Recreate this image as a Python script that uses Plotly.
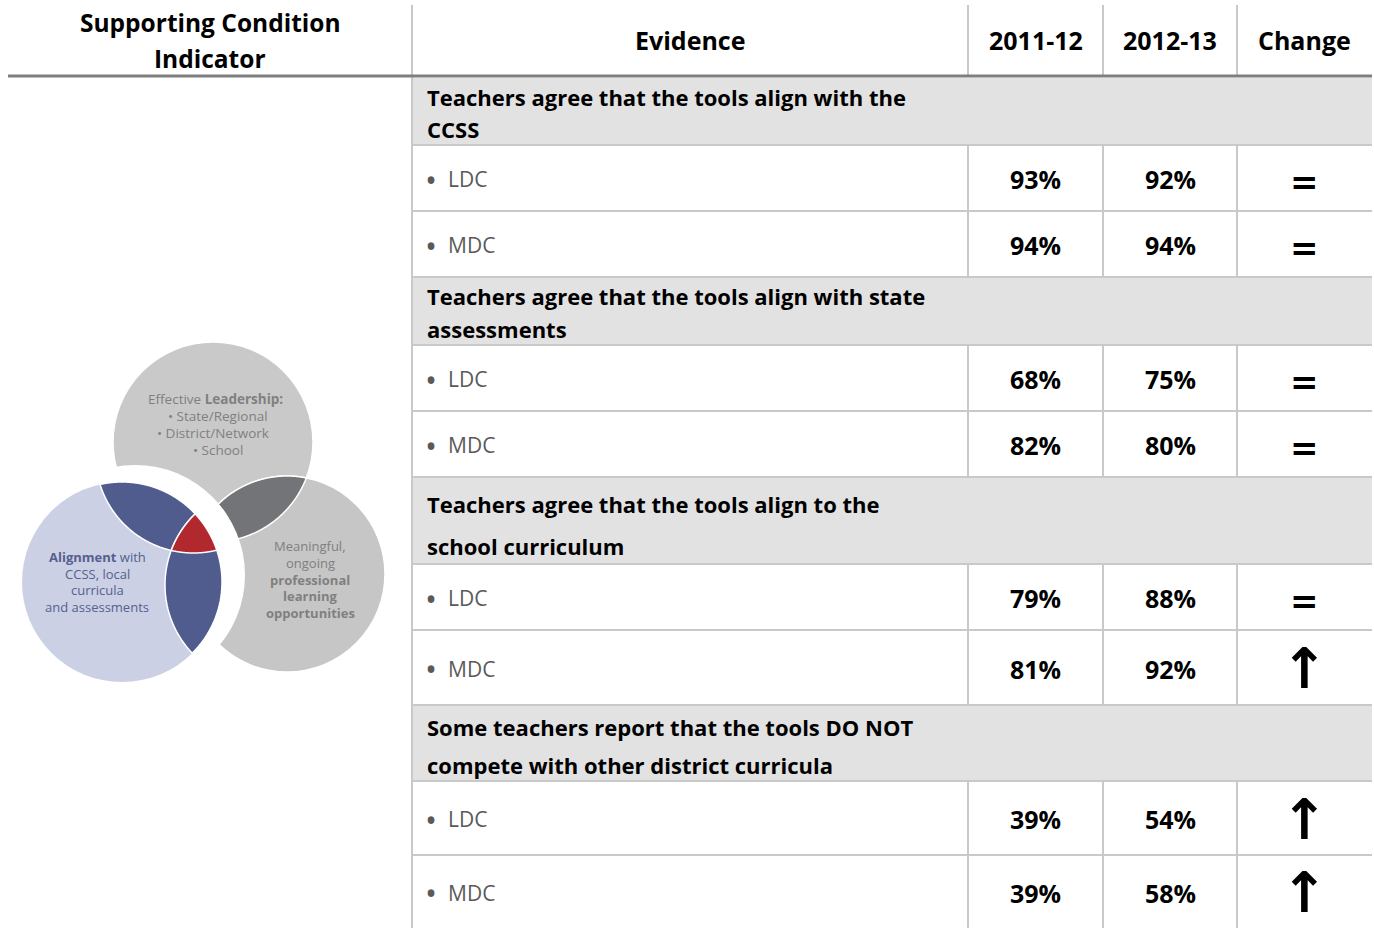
import numpy as np
import plotly.graph_objects as go

# ---------------- data ----------------
INDICATOR_HEADER = ["Supporting Condition", "Indicator"]
COL_HEADERS = ["Evidence", "2011-12", "2012-13", "Change"]
GROUP_LINES = [
    ["Teachers agree that the tools align with the", "CCSS"],
    ["Teachers agree that the tools align with state", "assessments"],
    ["Teachers agree that the tools align to the", "school curriculum"],
    ["Some teachers report that the tools DO NOT", "compete with other district curricula"],
]
SUBGROUPS = ["LDC", "MDC"]
PCT_2011 = [93, 94, 68, 82, 79, 81, 39, 39]
PCT_2012 = [92, 94, 75, 80, 88, 92, 54, 58]
CHANGE = ["=", "=", "=", "=", "=", "↑", "↑", "↑"]

VENN_TOP = ["Effective <b>Leadership:</b>", "• State/Regional", "• District/Network", "• School"]
VENN_RIGHT = ["Meaningful,", "ongoing", "<b>professional</b>", "<b>learning</b>", "<b>opportunities</b>"]
VENN_LEFT = ["<b>Alignment</b> with", "CCSS, local", "curricula", "and assessments"]

# ---------------- layout geometry (style) ----------------
W, H = 1374, 928
COL_X = [412, 968, 1103, 1237, 1372]
LEFT_X0 = 8
HEADER_LINE_Y = 76
GROUP_ROWS = [(78, 145, [97, 129]), (277, 345, [296, 329]), (477, 564, [504, 546]), (705, 781, [727, 765])]
SUB_ROWS = [(145, 211), (211, 277), (345, 411), (411, 477), (564, 630), (630, 705), (781, 855), (855, 928)]

FONT = "Open Sans"
GRID = "#c9c9c9"
GROUP_FILL = "#e2e2e2"

fig = go.Figure()
shapes = []
ann = []

def text(x, y, s, size, color="#000000", bold=False, xanchor="center", family=FONT):
    ann.append(dict(x=x, y=y, xref="x", yref="y", text=(f"<b>{s}</b>" if bold else s),
                    showarrow=False, xanchor=xanchor, yanchor="middle",
                    font=dict(family=family, size=size, color=color)))

for top, bot, _ in GROUP_ROWS:
    shapes.append(dict(type="rect", x0=COL_X[0], x1=COL_X[-1], y0=top, y1=bot,
                       fillcolor=GROUP_FILL, line=dict(width=0), layer="below"))

shapes.append(dict(type="line", x0=COL_X[0], x1=COL_X[0], y0=5, y1=H, line=dict(color=GRID, width=2)))
for cx in COL_X[1:4]:
    shapes.append(dict(type="line", x0=cx, x1=cx, y0=5, y1=HEADER_LINE_Y, line=dict(color=GRID, width=2)))
    for top, bot in SUB_ROWS:
        shapes.append(dict(type="line", x0=cx, x1=cx, y0=top, y1=bot, line=dict(color=GRID, width=2)))

ys = sorted(set([b for _, b, _ in GROUP_ROWS] + [b for _, b in SUB_ROWS[:-1]]))
for y in ys:
    shapes.append(dict(type="line", x0=COL_X[0], x1=COL_X[-1], y0=y, y1=y, line=dict(color=GRID, width=2)))
shapes.append(dict(type="line", x0=LEFT_X0, x1=COL_X[-1], y0=HEADER_LINE_Y, y1=HEADER_LINE_Y,
                   line=dict(color="#7f7f7f", width=3)))

text(210, 22, INDICATOR_HEADER[0], 24.5, bold=True)
text(210, 58, INDICATOR_HEADER[1], 24.5, bold=True)
for i, h in enumerate(COL_HEADERS):
    text((COL_X[i] + COL_X[i + 1]) / 2, 40, h, 25, bold=True)

for (top, bot, lys), lines in zip(GROUP_ROWS, GROUP_LINES):
    for ly, s in zip(lys, lines):
        text(425, ly, s, 22, bold=True, xanchor="left")

for i, (top, bot) in enumerate(SUB_ROWS):
    yc = (top + bot) / 2 + 1
    text(431, yc, "•", 32, color="#5a5a5a")
    text(446, yc, SUBGROUPS[i % 2], 21, color="#5a5a5a", xanchor="left")
    text((COL_X[1] + COL_X[2]) / 2, yc, f"{PCT_2011[i]}%", 25, bold=True)
    text((COL_X[2] + COL_X[3]) / 2, yc, f"{PCT_2012[i]}%", 25, bold=True)
    ch = CHANGE[i]
    if ch == "=":
        text((COL_X[3] + COL_X[4]) / 2, yc + 3, "<b>=</b>", 34, family="DejaVu Sans")
    else:
        text((COL_X[3] + COL_X[4]) / 2, yc, "<b>" + ch + "</b>", 56, family="DejaVu Sans")

# ---------------- Venn diagram ----------------
def circle_shape(c, fill, lw=0, lc="white"):
    x, y, r = c
    return dict(type="circle", x0=x - r, x1=x + r, y0=y - r, y1=y + r, fillcolor=fill,
                line=dict(width=lw, color=lc), layer="above")

def region_path(circles, n=1440):
    pts = []
    for i, (x, y, r) in enumerate(circles):
        t = np.linspace(0, 2 * np.pi, n, endpoint=False)
        px, py = x + r * np.cos(t), y + r * np.sin(t)
        ok = np.ones(n, bool)
        for j, (x2, y2, r2) in enumerate(circles):
            if j != i:
                ok &= (px - x2) ** 2 + (py - y2) ** 2 <= r2 ** 2 + 1e-6
        pts.append(np.c_[px[ok], py[ok]])
    P = np.vstack(pts)
    cx, cy = P.mean(axis=0)
    order = np.argsort(np.arctan2(P[:, 1] - cy, P[:, 0] - cx))
    P = P[order]
    return "M " + " L ".join(f"{a:.2f},{b:.2f}" for a, b in P) + " Z"

T = (213, 442, 100)
R = (287, 574, 98)
Wc = (135, 575, 110)
L = (122, 582, 100)
Tp = (193.5, 455, 98)
Rp = (264, 585, 99)

shapes.append(circle_shape(T, "#c9c9c9", 1.5))
shapes.append(circle_shape(R, "#c6c6c6", 1.5))
shapes.append(dict(type="path", path=region_path([T, R]), fillcolor="#737478",
                   line=dict(color="white", width=1.5), layer="above"))
shapes.append(circle_shape(Wc, "white"))
shapes.append(circle_shape(L, "#cbd0e4"))
shapes.append(dict(type="path", path=region_path([L, Tp]), fillcolor="#505c8e",
                   line=dict(color="white", width=1.5), layer="above"))
shapes.append(dict(type="path", path=region_path([L, Rp]), fillcolor="#505c8e",
                   line=dict(color="white", width=1.5), layer="above"))
shapes.append(dict(type="path", path=region_path([L, Tp, Rp]), fillcolor="#b1282f",
                   line=dict(color="white", width=1.5), layer="above"))

for k, s in enumerate(VENN_TOP):
    text([215, 218, 213, 218][k], 399 + 17 * k, s, 13.5, color="#808080")
for k, s in enumerate(VENN_RIGHT):
    text(310, 546 + 16.8 * k, s, 13, color="#808080")
for k, s in enumerate(VENN_LEFT):
    text(97, 557 + 16.7 * k, s, 13, color="#55608f")

fig.add_trace(go.Scatter(x=[0], y=[0], mode="markers", marker=dict(opacity=0), hoverinfo="skip", showlegend=False))
fig.update_layout(
    width=W, height=H, margin=dict(l=0, r=0, t=0, b=0),
    plot_bgcolor="white", paper_bgcolor="white",
    xaxis=dict(range=[0, W], visible=False, fixedrange=True),
    yaxis=dict(range=[H, 0], visible=False, fixedrange=True),
    shapes=shapes, annotations=ann, showlegend=False,
)
fig.write_html("out.html", config={"displayModeBar": False},
               post_script="document.body.style.margin='0';")
